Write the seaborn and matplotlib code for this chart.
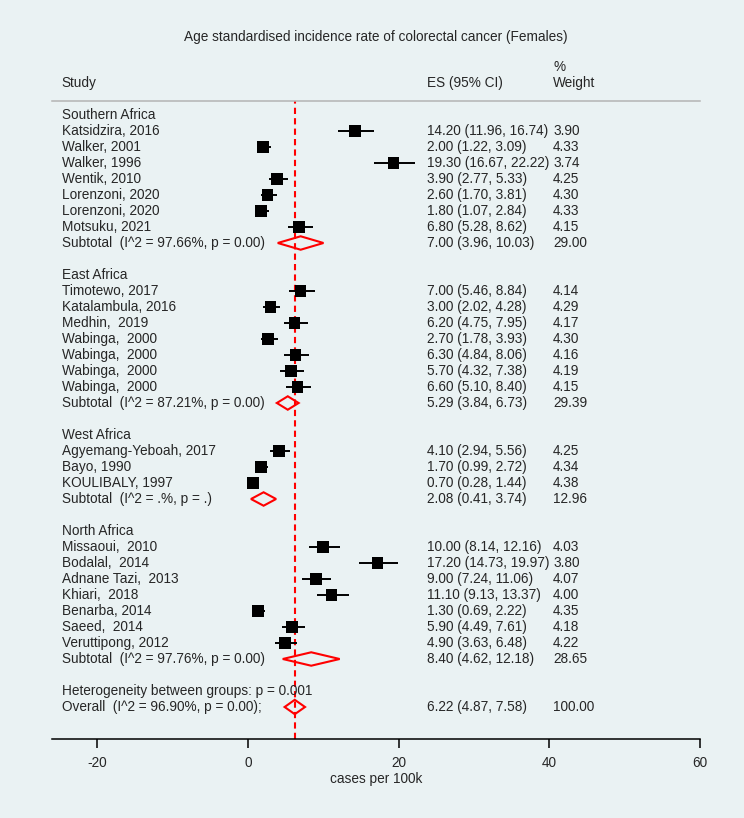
import numpy as np
import pandas as pd
import matplotlib
matplotlib.use('Agg')
import matplotlib.pyplot as plt
import seaborn as sns

# Datos del forest plot
regiones = ['Southern Africa', 'East Africa', 'West Africa', 'North Africa']
estudios = [
    ['Katsidzira, 2016', 'Walker, 2001', 'Walker, 1996', 'Wentik, 2010',
     'Lorenzoni, 2020', 'Lorenzoni, 2020', 'Motsuku, 2021'],
    ['Timotewo, 2017', 'Katalambula, 2016', 'Medhin,  2019', 'Wabinga,  2000',
     'Wabinga,  2000', 'Wabinga,  2000', 'Wabinga,  2000'],
    ['Agyemang-Yeboah, 2017', 'Bayo, 1990', 'KOULIBALY, 1997'],
    ['Missaoui,  2010', 'Bodalal,  2014', 'Adnane Tazi,  2013', 'Khiari,  2018',
     'Benarba, 2014', 'Saeed,  2014', 'Veruttipong, 2012'],
]
es = [14.20, 2.00, 19.30, 3.90, 2.60, 1.80, 6.80,
      7.00, 3.00, 6.20, 2.70, 6.30, 5.70, 6.60,
      4.10, 1.70, 0.70,
      10.00, 17.20, 9.00, 11.10, 1.30, 5.90, 4.90]
li = [11.96, 1.22, 16.67, 2.77, 1.70, 1.07, 5.28,
      5.46, 2.02, 4.75, 1.78, 4.84, 4.32, 5.10,
      2.94, 0.99, 0.28,
      8.14, 14.73, 7.24, 9.13, 0.69, 4.49, 3.63]
ls = [16.74, 3.09, 22.22, 5.33, 3.81, 2.84, 8.62,
      8.84, 4.28, 7.95, 3.93, 8.06, 7.38, 8.40,
      5.56, 2.72, 1.44,
      12.16, 19.97, 11.06, 13.37, 2.22, 7.61, 6.48]
peso = [3.90, 4.33, 3.74, 4.25, 4.30, 4.33, 4.15,
        4.14, 4.29, 4.17, 4.30, 4.16, 4.19, 4.15,
        4.25, 4.34, 4.38,
        4.03, 3.80, 4.07, 4.00, 4.35, 4.18, 4.22]

sub_es = [7.00, 5.29, 2.08, 8.40]
sub_li = [3.96, 3.84, 0.41, 4.62]
sub_ls = [10.03, 6.73, 3.74, 12.18]
sub_peso = [29.00, 29.39, 12.96, 28.65]
sub_i2 = ['97.66%', '87.21%', '.%', '97.76%']
sub_p = ['0.00', '0.00', '.', '0.00']

total_es, total_li, total_ls, total_peso = 6.22, 4.87, 7.58, 100.00
total_i2, total_p = '96.90%', '0.00'
het_p = '0.001'

titulo = 'Age standardised incidence rate of colorectal cancer (Females)'

# Estilo
fondo = '#EAF2F3'
sns.set_style('white')
plt.rcParams['font.family'] = ['Liberation Sans', 'DejaVu Sans']
plt.rcParams['axes.unicode_minus'] = False
fs = 9.8

fig = plt.figure(figsize=(7.44, 8.18), dpi=100, facecolor=fondo)
ax = fig.add_axes([52 / 744, (818 - 739) / 818, 648 / 744, 638 / 818], facecolor=fondo)

x_txt, x_es, x_w = -24.7, 23.76, 40.5

# Filas
filas = []
fila_sub = []
r = 0
for g, reg in enumerate(regiones):
    ax.text(x_txt, r, reg, va='center', fontsize=fs)
    r += 1
    for s in estudios[g]:
        ax.text(x_txt, r, s, va='center', fontsize=fs)
        filas.append(r)
        r += 1
    fila_sub.append(r)
    r += 2
fila_het, fila_total = r, r + 1

df = pd.DataFrame({'es': es, 'lo': li, 'hi': ls, 'peso': peso, 'fila': filas})

# Linea de referencia (estimacion global)
ax.axvline(total_es, color='red', lw=1.5, dashes=(3, 2), zorder=1)

# Intervalos de confianza y cuadrados
ax.hlines(df['fila'], df['lo'], df['hi'], color='black', lw=1.4, zorder=2)
sns.scatterplot(data=df, x='es', y='fila', size='peso', sizes=(64, 75),
                size_norm=(3.74, 4.38), marker='s', color='black',
                linewidth=0, legend=False, ax=ax, zorder=3)

for idx in df.index:
    ax.text(x_es, df['fila'][idx], f"{df['es'][idx]:.2f} ({df['lo'][idx]:.2f}, {df['hi'][idx]:.2f})",
            va='center', fontsize=fs)
    ax.text(x_w, df['fila'][idx], f"{df['peso'][idx]:.2f}", va='center', fontsize=fs)

def diamante(e, lo, hi, y, h=0.42):
    ax.fill([lo, e, hi, e], [y, y - h, y, y + h], facecolor='none',
            edgecolor='red', lw=1.5, zorder=4)

for g in range(len(regiones)):
    y = fila_sub[g]
    diamante(sub_es[g], sub_li[g], sub_ls[g], y)
    ax.text(x_txt, y, f"Subtotal  (I^2 = {sub_i2[g]}, p = {sub_p[g]})", va='center', fontsize=fs)
    ax.text(x_es, y, f"{sub_es[g]:.2f} ({sub_li[g]:.2f}, {sub_ls[g]:.2f})", va='center', fontsize=fs)
    ax.text(x_w, y, f"{sub_peso[g]:.2f}", va='center', fontsize=fs)

ax.text(x_txt, fila_het, f"Heterogeneity between groups: p = {het_p}", va='center', fontsize=fs)
diamante(total_es, total_li, total_ls, fila_total, h=0.45)
ax.text(x_txt, fila_total, f"Overall  (I^2 = {total_i2}, p = {total_p});", va='center', fontsize=fs)
ax.text(x_es, fila_total, f"{total_es:.2f} ({total_li:.2f}, {total_ls:.2f})", va='center', fontsize=fs)
ax.text(x_w, fila_total, f"{total_peso:.2f}", va='center', fontsize=fs)

# Encabezados y titulo
ax.text(x_txt, -2, 'Study', va='center', fontsize=fs)
ax.text(x_es, -2, 'ES (95% CI)', va='center', fontsize=fs)
ax.text(x_w, -2, 'Weight', va='center', fontsize=fs)
ax.text(x_w, -3, '%', va='center', fontsize=fs)
ax.text(17, -4.875, titulo, ha='center', va='center', fontsize=fs)

# Ejes
ax.set_xlim(-26, 60)
ax.set_ylim(39, -0.875)
ax.set_xticks([-20, 0, 20, 40, 60])
ax.set_yticks([])
ax.set_ylabel('')
ax.set_xlabel('cases per 100k', fontsize=fs, labelpad=1)
ax.tick_params(axis='x', direction='out', length=6.5, width=1.1, pad=6,
               labelsize=fs, bottom=True, color='black')
for lado in ['left', 'right']:
    ax.spines[lado].set_visible(False)
ax.spines['top'].set_color('#B4B4B4')
ax.spines['top'].set_linewidth(1.1)
ax.spines['bottom'].set_color('black')
ax.spines['bottom'].set_linewidth(1.1)

fig.savefig('out.png', dpi=100, facecolor=fondo)
